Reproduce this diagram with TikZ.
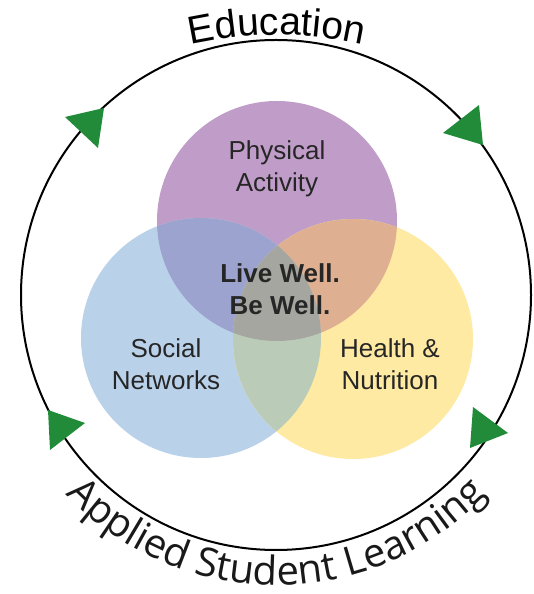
\documentclass[tikz,border=0pt]{standalone}
\usepackage{fontspec}
\setmainfont{Liberation Sans}
\newfontfamily\arcfont{Open Sans}
\usetikzlibrary{decorations.text}
\usepackage{xcolor}

\definecolor{physcol}{HTML}{C09DC8}
\definecolor{soccol}{HTML}{BAD1EA}
\definecolor{nutcol}{HTML}{FEEAA3}
\definecolor{pscol}{HTML}{9CA3CE}
\definecolor{pncol}{HTML}{DEB091}
\definecolor{sncol}{HTML}{BACCB8}
\definecolor{allcol}{HTML}{A5A6A0}
\definecolor{arrowgreen}{RGB}{34,139,58}

\begin{document}
\begin{tikzpicture}[x=1pt,y=1pt,
        lbl/.style={text=black!85, font=\fontsize{26}{32}\selectfont, align=center, anchor=base},
        tri/.style={fill=arrowgreen}]
        \useasboundingbox (0,0) rectangle (533,594);
        \def\physcirc{(277,373) circle (120pt)}
        \def\soccirc{(201,256) circle (120pt)}
        \def\nutcirc{(353,255) circle (120pt)}

        \fill[physcol] \physcirc;
        \fill[soccol] \soccirc;
        \fill[nutcol] \nutcirc;
        \begin{scope} \clip \physcirc; \fill[pscol] \soccirc; \end{scope}
        \begin{scope} \clip \physcirc; \fill[pncol] \nutcirc; \end{scope}
        \begin{scope} \clip \soccirc; \fill[sncol] \nutcirc; \end{scope}
        \begin{scope} \clip \physcirc; \clip \soccirc; \fill[allcol] \nutcirc; \end{scope}

        \draw[line width=2pt] (276,299) circle (255pt);

        \fill[tri] (65,477) -- (104,486) -- (98,446) -- cycle;
        \fill[tri] (443,461) -- (479,489) -- (483,449) -- cycle;
        \fill[tri] (48,184) -- (85,171) -- (50,144) -- cycle;
        \fill[tri] (473,187) -- (508,161) -- (470,146) -- cycle;

        \node[lbl] (phys) at (277,402) {Physical\\Activity};
        \node[lbl, font=\bfseries\fontsize{26}{32}\selectfont] (core) at (280,279) {Live Well.\\Be Well.};
        \node[lbl] (soc) at (166,204) {Social\\Networks};
        \node[lbl] (nut) at (390,204) {Health \&\\Nutrition};

        \path[decorate, decoration={text along path, text align=center,
            text={|\fontsize{39}{39}\selectfont|Education}}]
            (277,159) ++(105:400pt) arc (105:75:400pt);
        \path[decorate, decoration={text along path, text align=center,
            text={|\color{black!90}\arcfont\fontsize{40}{40}\selectfont|Applied Student Learning}}]
            (276,299) ++(216:290pt) arc (216:324:290pt);
\end{tikzpicture}
\end{document}
